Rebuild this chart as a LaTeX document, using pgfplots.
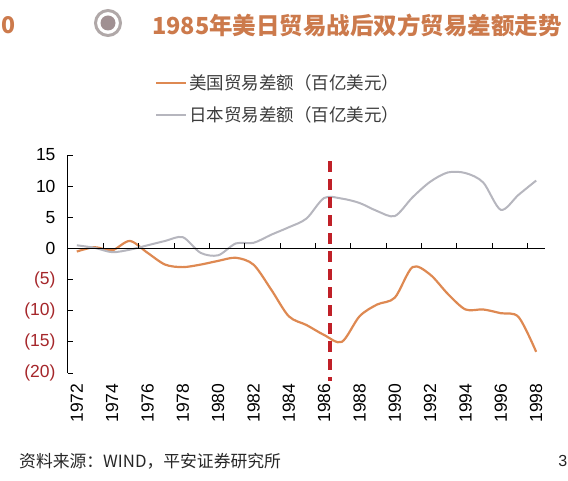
\documentclass[border=0pt]{standalone}
\usepackage{pgfplots}
\pgfplotsset{compat=1.18}
\usepackage{fontspec}
\setmainfont{Liberation Sans}
\newfontfamily\cjk{Noto Sans CJK SC}
\definecolor{usorange}{RGB}{222,137,82}
\definecolor{jpgray}{RGB}{182,182,190}
\definecolor{dashred}{RGB}{192,32,40}
\definecolor{negred}{RGB}{165,38,42}
\definecolor{titlecol}{RGB}{204,122,76}
\definecolor{ringgray}{RGB}{176,168,168}
\definecolor{dotgray}{RGB}{160,144,146}
\definecolor{legtext}{RGB}{60,60,60}

\pgfplotstableread{
year us
1972 -0.5
1973 0.2
1974 -0.3
1975 1.2
1976 -0.7
1977 -2.6
1978 -3.0
1979 -2.6
1980 -2.0
1981 -1.5
1982 -2.6
1983 -6.6
1984 -10.9
1985 -12.3
1986 -13.9
1987 -15.0
1988 -10.9
1989 -9.0
1990 -7.9
1991 -3.0
1992 -4.2
1993 -7.3
1994 -9.8
1995 -9.8
1996 -10.4
1997 -11.0
1998 -16.6
}\ustable

\pgfplotstableread{
year jp
1972 0.5
1973 0.1
1974 -0.6
1975 -0.2
1976 0.5
1977 1.2
1978 1.8
1979 -0.7
1980 -1.1
1981 0.8
1982 0.9
1983 2.2
1984 3.4
1985 4.8
1986 8.1
1987 8.0
1988 7.3
1989 6.0
1990 5.2
1991 8.2
1992 10.7
1993 12.2
1994 12.1
1995 10.6
1996 6.2
1997 8.6
1998 10.9
}\jptable

\begin{document}
\begin{tikzpicture}
\useasboundingbox (0pt,0pt) rectangle (568pt,-481pt);
% header
\node[anchor=west, inner sep=0pt, text=titlecol, font=\cjk\bfseries\fontsize{23}{26}\selectfont] at (1pt,-25pt) {0};
\draw[ringgray, line width=3pt] (108pt,-23pt) circle (12.5pt);
\fill[dotgray] (108pt,-23pt) circle (7.5pt);
\node[anchor=west, inner sep=0pt, text=titlecol, font=\cjk\bfseries\fontsize{23.5}{26}\selectfont] at (152pt,-25pt) {1985年美日贸易战后双方贸易差额走势};

\begin{axis}[
  at={(68pt,-373pt)}, anchor=south west,
  scale only axis, width=477pt, height=218pt,
  xmin=1971.5, xmax=1998.5, ymin=-20, ymax=15,
  clip=false,
  axis y line*=left, axis x line*=bottom,
  x axis line style={draw=none},
  y axis line style={black, line width=1pt},
  ytick={-20,-15,-10,-5,0,5,10,15},
  yticklabels={\textcolor{negred}{(20)},\textcolor{negred}{(15)},\textcolor{negred}{(10)},\textcolor{negred}{(5)},0,5,10,15},
  ytick align=inside,
  ytick style={black, line width=0.8pt},
  major tick length=5pt,
  yticklabel style={xshift=-9pt},
  xtick={1972,1974,1976,1978,1980,1982,1984,1986,1988,1990,1992,1994,1996,1998},
  xticklabels={1972,1974,1976,1978,1980,1982,1984,1986,1988,1990,1992,1994,1996,1998},
  xtick style={draw=none},
  xticklabel style={rotate=90, anchor=east, xshift=-7pt},
  tick label style={font=\fontsize{17.5}{19}\selectfont},
  legend style={draw=none, fill=none, at={(0.182,1.380)}, anchor=north west,
     font=\cjk\fontsize{17.5}{20}\selectfont, text=legtext, row sep=12pt, inner sep=0pt},
  legend cell align=left,
  legend image code/.code={\draw[#1] (0pt,0pt) -- (30pt,0pt);},
]
\addplot[usorange, line width=2.2pt, smooth, no marks] table[x=year, y=us] {\ustable};
\addlegendentry{美国贸易差额（百亿美元）}
\addplot[jpgray, line width=2pt, smooth, no marks] table[x=year, y=jp] {\jptable};
\addlegendentry{日本贸易差额（百亿美元）}
% zero line and its tick marks
\addplot[black, line width=1pt, no marks, forget plot] coordinates {(1971.5,0) (1998.5,0)};
\addplot[black, line width=0.8pt, ycomb, no marks, forget plot] coordinates {
(1973.5,0.8) (1975.5,0.8) (1977.5,0.8) (1979.5,0.8) (1981.5,0.8) (1983.5,0.8) (1985.5,0.8)
(1987.5,0.8) (1989.5,0.8) (1991.5,0.8) (1993.5,0.8) (1995.5,0.8) (1997.5,0.8)};
% 1986 marker
\addplot[dashred, line width=3.5pt, dash pattern=on 11pt off 7pt, no marks, forget plot] coordinates {(1986.33,14) (1986.33,-21.3)};
\end{axis}

% footer
\node[anchor=west, inner sep=0pt, font=\cjk\fontsize{16.8}{18}\selectfont, text=black!85] at (19pt,-461pt) {资料来源：WIND，平安证券研究所};
\node[anchor=east, inner sep=0pt, font=\fontsize{16}{18}\selectfont, text=black!85] at (567.5pt,-461pt) {3};
\end{tikzpicture}
\end{document}
